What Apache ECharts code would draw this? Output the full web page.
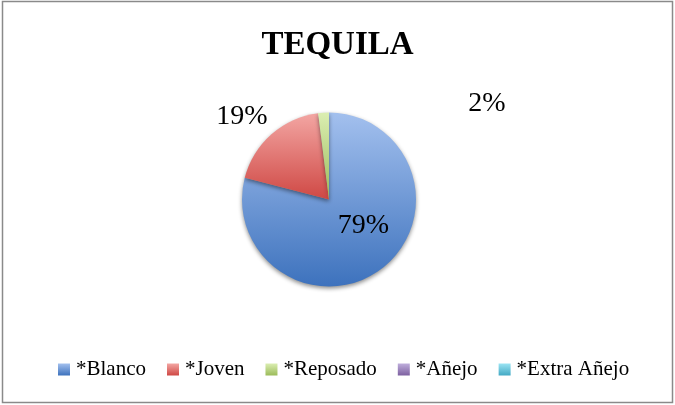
<!DOCTYPE html>
<html>
<head>
<meta charset="utf-8">
<script src="https://cdn.jsdelivr.net/npm/echarts@6/dist/echarts.min.js"></script>
<style>
  html, body { margin: 0; padding: 0; background: #fff; }
  #chart { width: 675px; height: 405px; }
</style>
</head>
<body>
<div id="chart"></div>
<script>
// Tequila categories and their share (%)
const categories = ['*Blanco', '*Joven', '*Reposado', '*Añejo', '*Extra Añejo'];
const shares = [79, 19, 2, 0, 0];

// Light/dark gradient stops for each category
const lightColors = ['#a3c0ee', '#f3a6a3', '#dbeeb2', '#bfaedc', '#9be4f3'];
const darkColors  = ['#3d72bd', '#cf4844', '#9bbb59', '#7d60a0', '#43a9c4'];

const serif = "'Liberation Serif', 'DejaVu Serif', serif";

function grad(i) {
  return new echarts.graphic.LinearGradient(0, 0, 0, 1, [
    { offset: 0, color: lightColors[i] },
    { offset: 1, color: darkColors[i] }
  ]);
}

// Nudges applied to the library's label placement
const labelOffsets = [[6, -11], [41, -6], [218, 6], [0, 0], [0, 0]];

const pieData = categories.map((name, i) => ({
  name: name,
  value: shares[i],
  itemStyle: { color: grad(i) },
  label: {
    show: shares[i] > 0,
    position: i === 0 ? 'inside' : 'outside'
  }
}));

const chart = echarts.init(document.getElementById('chart'), null, { renderer: 'canvas' });
chart.setOption({
  animation: false,
  backgroundColor: '#fff',
  graphic: [{
    type: 'rect',
    shape: { x: 2.5, y: 1.5, width: 670, height: 401 },
    style: { fill: 'none', stroke: '#8a8a8a', lineWidth: 1.5 },
    silent: true
  }],
  title: {
    text: 'TEQUILA',
    left: 'center',
    top: 24,
    textStyle: { fontFamily: serif, fontSize: 33, fontWeight: 'bold', color: '#000' }
  },
  legend: {
    bottom: 20,
    left: 53,
    itemWidth: 12,
    itemHeight: 12,
    itemGap: 21,
    icon: 'rect',
    data: categories.map((c, i) => ({ name: c, itemStyle: { color: grad(i) } })),
    textStyle: { fontFamily: serif, fontSize: 21, color: '#000', padding: [0, 0, 0, 1] }
  },
  series: [{
    type: 'pie',
    center: [329, 199.5],
    radius: 87,
    startAngle: 90,
    clockwise: true,
    avoidLabelOverlap: false,
    stillShowZeroSum: false,
    label: {
      formatter: '{c}%',
      fontFamily: serif,
      fontSize: 28,
      color: '#000'
    },
    labelLine: { show: false },
    labelLayout: function (p) {
      const o = labelOffsets[p.dataIndex] || [0, 0];
      return { dx: o[0], dy: o[1] };
    },
    itemStyle: {
      borderWidth: 0,
      shadowBlur: 4,
      shadowOffsetY: 2,
      shadowColor: 'rgba(0,0,0,0.45)'
    },
    emphasis: { disabled: true },
    data: pieData
  }]
});
</script>
</body>
</html>
